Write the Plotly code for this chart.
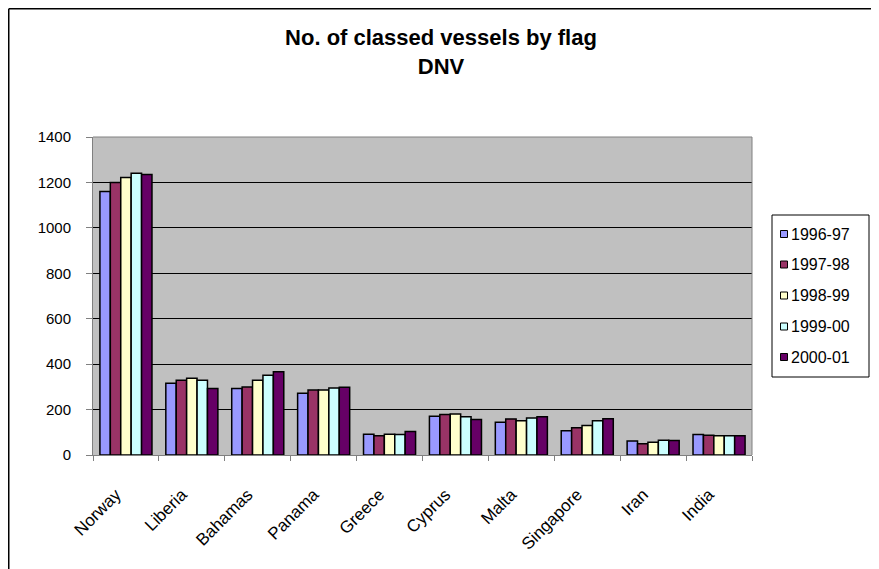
import plotly.graph_objects as go

categories = ["Norway", "Liberia", "Bahamas", "Panama", "Greece", "Cyprus", "Malta", "Singapore", "Iran", "India"]
series_names = ["1996-97", "1997-98", "1998-99", "1999-00", "2000-01"]
v_1996_97 = [1160, 316, 293, 272, 91, 171, 144, 107, 62, 90]
v_1997_98 = [1200, 329, 299, 286, 85, 178, 159, 120, 49, 87]
v_1998_99 = [1222, 338, 329, 286, 91, 181, 151, 130, 56, 85]
v_1999_00 = [1240, 329, 351, 295, 90, 168, 163, 151, 65, 85]
v_2000_01 = [1235, 293, 366, 298, 104, 156, 168, 160, 64, 85]
y_ticks = [0, 200, 400, 600, 800, 1000, 1200, 1400]

series_values = [v_1996_97, v_1997_98, v_1998_99, v_1999_00, v_2000_01]
colors = ["#9999FF", "#993366", "#FFFFCC", "#CCFFFF", "#660066"]

# page body has an 8px margin; work in screen pixels and shift
OFF = 8
W, H = 879 - OFF, 569 - OFF
L, R, T, B = 93 - OFF, 752 - OFF, 137 - OFF, 455 - OFF
FONT = "Arial, Liberation Sans, sans-serif"


def px_x(p):
    return (p - OFF - L) / (R - L)


def px_y(p):
    return (B - (p - OFF)) / (B - T)


fig = go.Figure()
for name, vals, col in zip(series_names, series_values, colors):
    fig.add_trace(go.Bar(
        x=categories, y=vals, name=name, showlegend=False,
        marker=dict(color=col, line=dict(color="black", width=1.5)),
    ))

shapes = [
    # outer chart border (top and left visible)
    dict(type="line", xref="paper", yref="paper",
         x0=px_x(OFF + 0.75), x1=px_x(879 + 10), y0=px_y(OFF + 0.75), y1=px_y(OFF + 0.75),
         line=dict(color="black", width=1.5)),
    dict(type="line", xref="paper", yref="paper",
         x0=px_x(OFF + 0.75), x1=px_x(OFF + 0.75), y0=px_y(OFF + 0.75), y1=px_y(580),
         line=dict(color="black", width=1.5)),
    # plot area frame right/top
    dict(type="line", xref="paper", yref="paper", x0=1, x1=1, y0=0, y1=1,
         line=dict(color="#808080", width=1)),
    dict(type="line", xref="paper", yref="paper", x0=0, x1=1, y0=1, y1=1,
         line=dict(color="#808080", width=1)),
    # legend box
    dict(type="rect", xref="paper", yref="paper",
         x0=px_x(772), x1=px_x(869), y0=px_y(215), y1=px_y(377),
         line=dict(color="black", width=1), fillcolor="white"),
]
annotations = []
legend_y = [234, 264.5, 295.5, 326.5, 357]
for name, col, ly in zip(series_names, colors, legend_y):
    shapes.append(dict(type="rect", xref="paper", yref="paper",
                       x0=px_x(780.5), x1=px_x(787.5), y0=px_y(ly - 3.5), y1=px_y(ly + 3.5),
                       line=dict(color="black", width=1), fillcolor=col))
    annotations.append(dict(xref="paper", yref="paper", x=px_x(788.5), y=px_y(ly),
                            xanchor="left", yanchor="middle", showarrow=False,
                            text=name, font=dict(family=FONT, size=16, color="black")))

fig.update_layout(
    width=W, height=H,
    margin=dict(l=L, r=W - R, t=T, b=H - B, pad=0),
    paper_bgcolor="white",
    plot_bgcolor="#C0C0C0",
    barmode="group",
    bargap=0.21,
    bargroupgap=0,
    font=dict(family=FONT, size=15, color="black"),
    title=dict(
        text="<b>No. of classed vessels by flag<br>DNV</b>",
        x=(441 - OFF) / W, xanchor="center",
        y=1 - (45 - OFF) / H, yanchor="top",
        font=dict(size=22, family=FONT, color="black"),
    ),
    showlegend=False,
    xaxis=dict(
        type="category",
        showline=True, linecolor="#808080", linewidth=1,
        ticks="outside", tickson="boundaries", ticklen=5, tickcolor="#808080",
        tickangle=-45,
        tickfont=dict(size=17),
        ticklabelstandoff=22,
        ticklabelshift=-10,
        showgrid=False,
        fixedrange=True,
    ),
    yaxis=dict(
        range=[0, 1400],
        tickvals=y_ticks,
        showline=True, linecolor="#808080", linewidth=1,
        ticks="outside", ticklen=6, tickcolor="#808080",
        tickfont=dict(size=15),
        ticklabelstandoff=12,
        showgrid=True, gridcolor="black", gridwidth=1,
        zeroline=False,
    ),
    shapes=shapes,
    annotations=annotations,
)

fig.write_html("out.html")
